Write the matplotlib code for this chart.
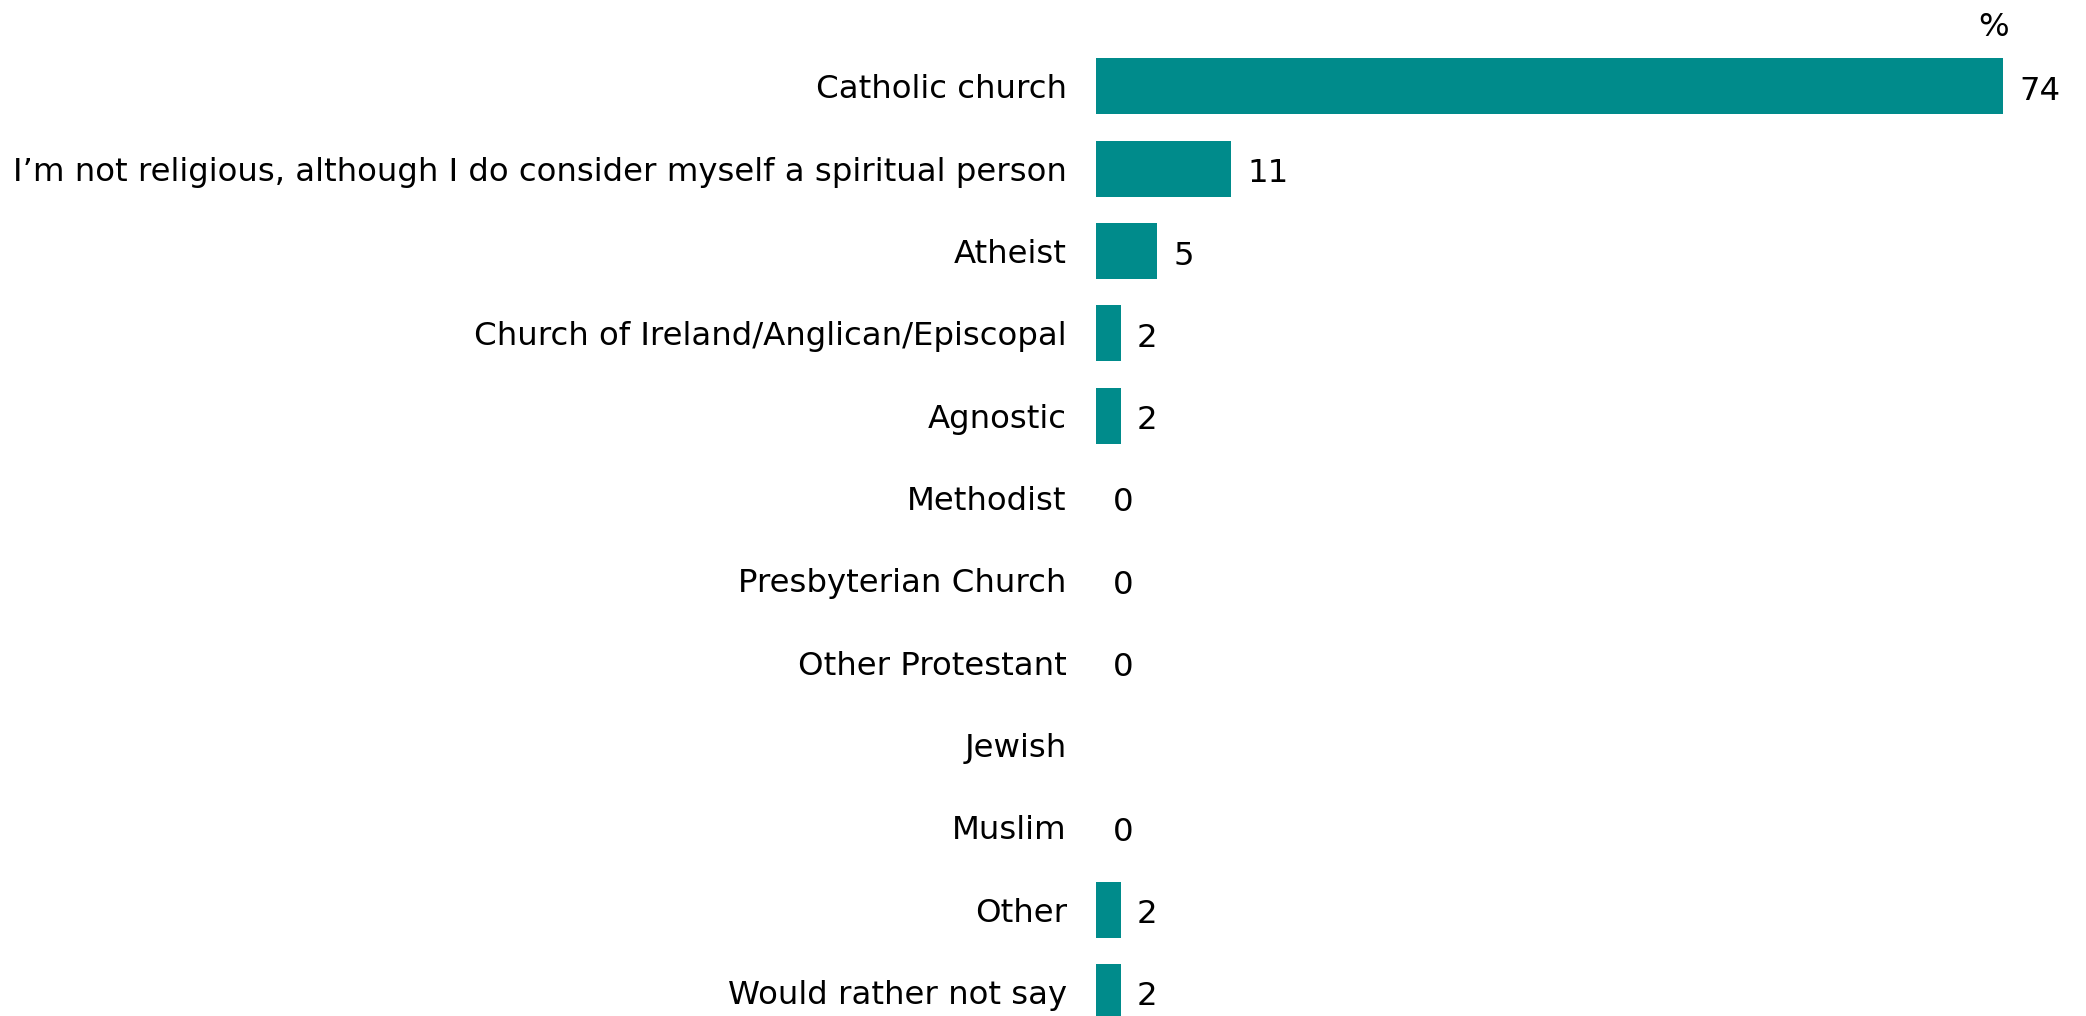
import numpy as np
from matplotlib import pyplot as plt

categories = ["Catholic church",
              "I\u2019m not religious, although I do consider myself a spiritual person",
              "Atheist",
              "Church of Ireland/Anglican/Episcopal",
              "Agnostic",
              "Methodist",
              "Presbyterian Church",
              "Other Protestant",
              "Jewish",
              "Muslim",
              "Other",
              "Would rather not say"]
values = [74, 11, 5, 2, 2, 0, 0, 0, None, 0, 2, 2]

bar_color = '#008B8B'
fs = 23.3
plt.rcParams['font.family'] = ['DejaVu Sans']

fig = plt.figure(figsize=(20.86, 10.16), dpi=100)
# axes starts where bars start, runs to the right edge
ax = fig.add_axes([1096/2086, 0, 1 - 1096/2086, 1])

y = np.arange(len(categories))
vals = np.array([np.nan if v is None else v for v in values], dtype=float)
ax.barh(y, np.nan_to_num(vals), height=0.68, color=bar_color)

for yi, v in zip(y, values):
    if v is None:
        continue
    ax.text(v + 1.35, yi + 0.06, str(v), va='center', ha='left', fontsize=fs, color='black')

ax.set_xlim(0, 990/12.26)
ax.set_ylim(11 + 24/82.4, -86.5/82.4)
ax.set_yticks(y)
ax.set_yticklabels(categories, fontsize=fs)
ax.tick_params(axis='y', length=0, pad=21)
ax.set_xticks([])
for s in ax.spines.values():
    s.set_visible(False)

ax.text(73.2, -1.05 + 28/82.4, '%', ha='center', va='center', fontsize=fs)

fig.savefig('out.png', dpi=100)
